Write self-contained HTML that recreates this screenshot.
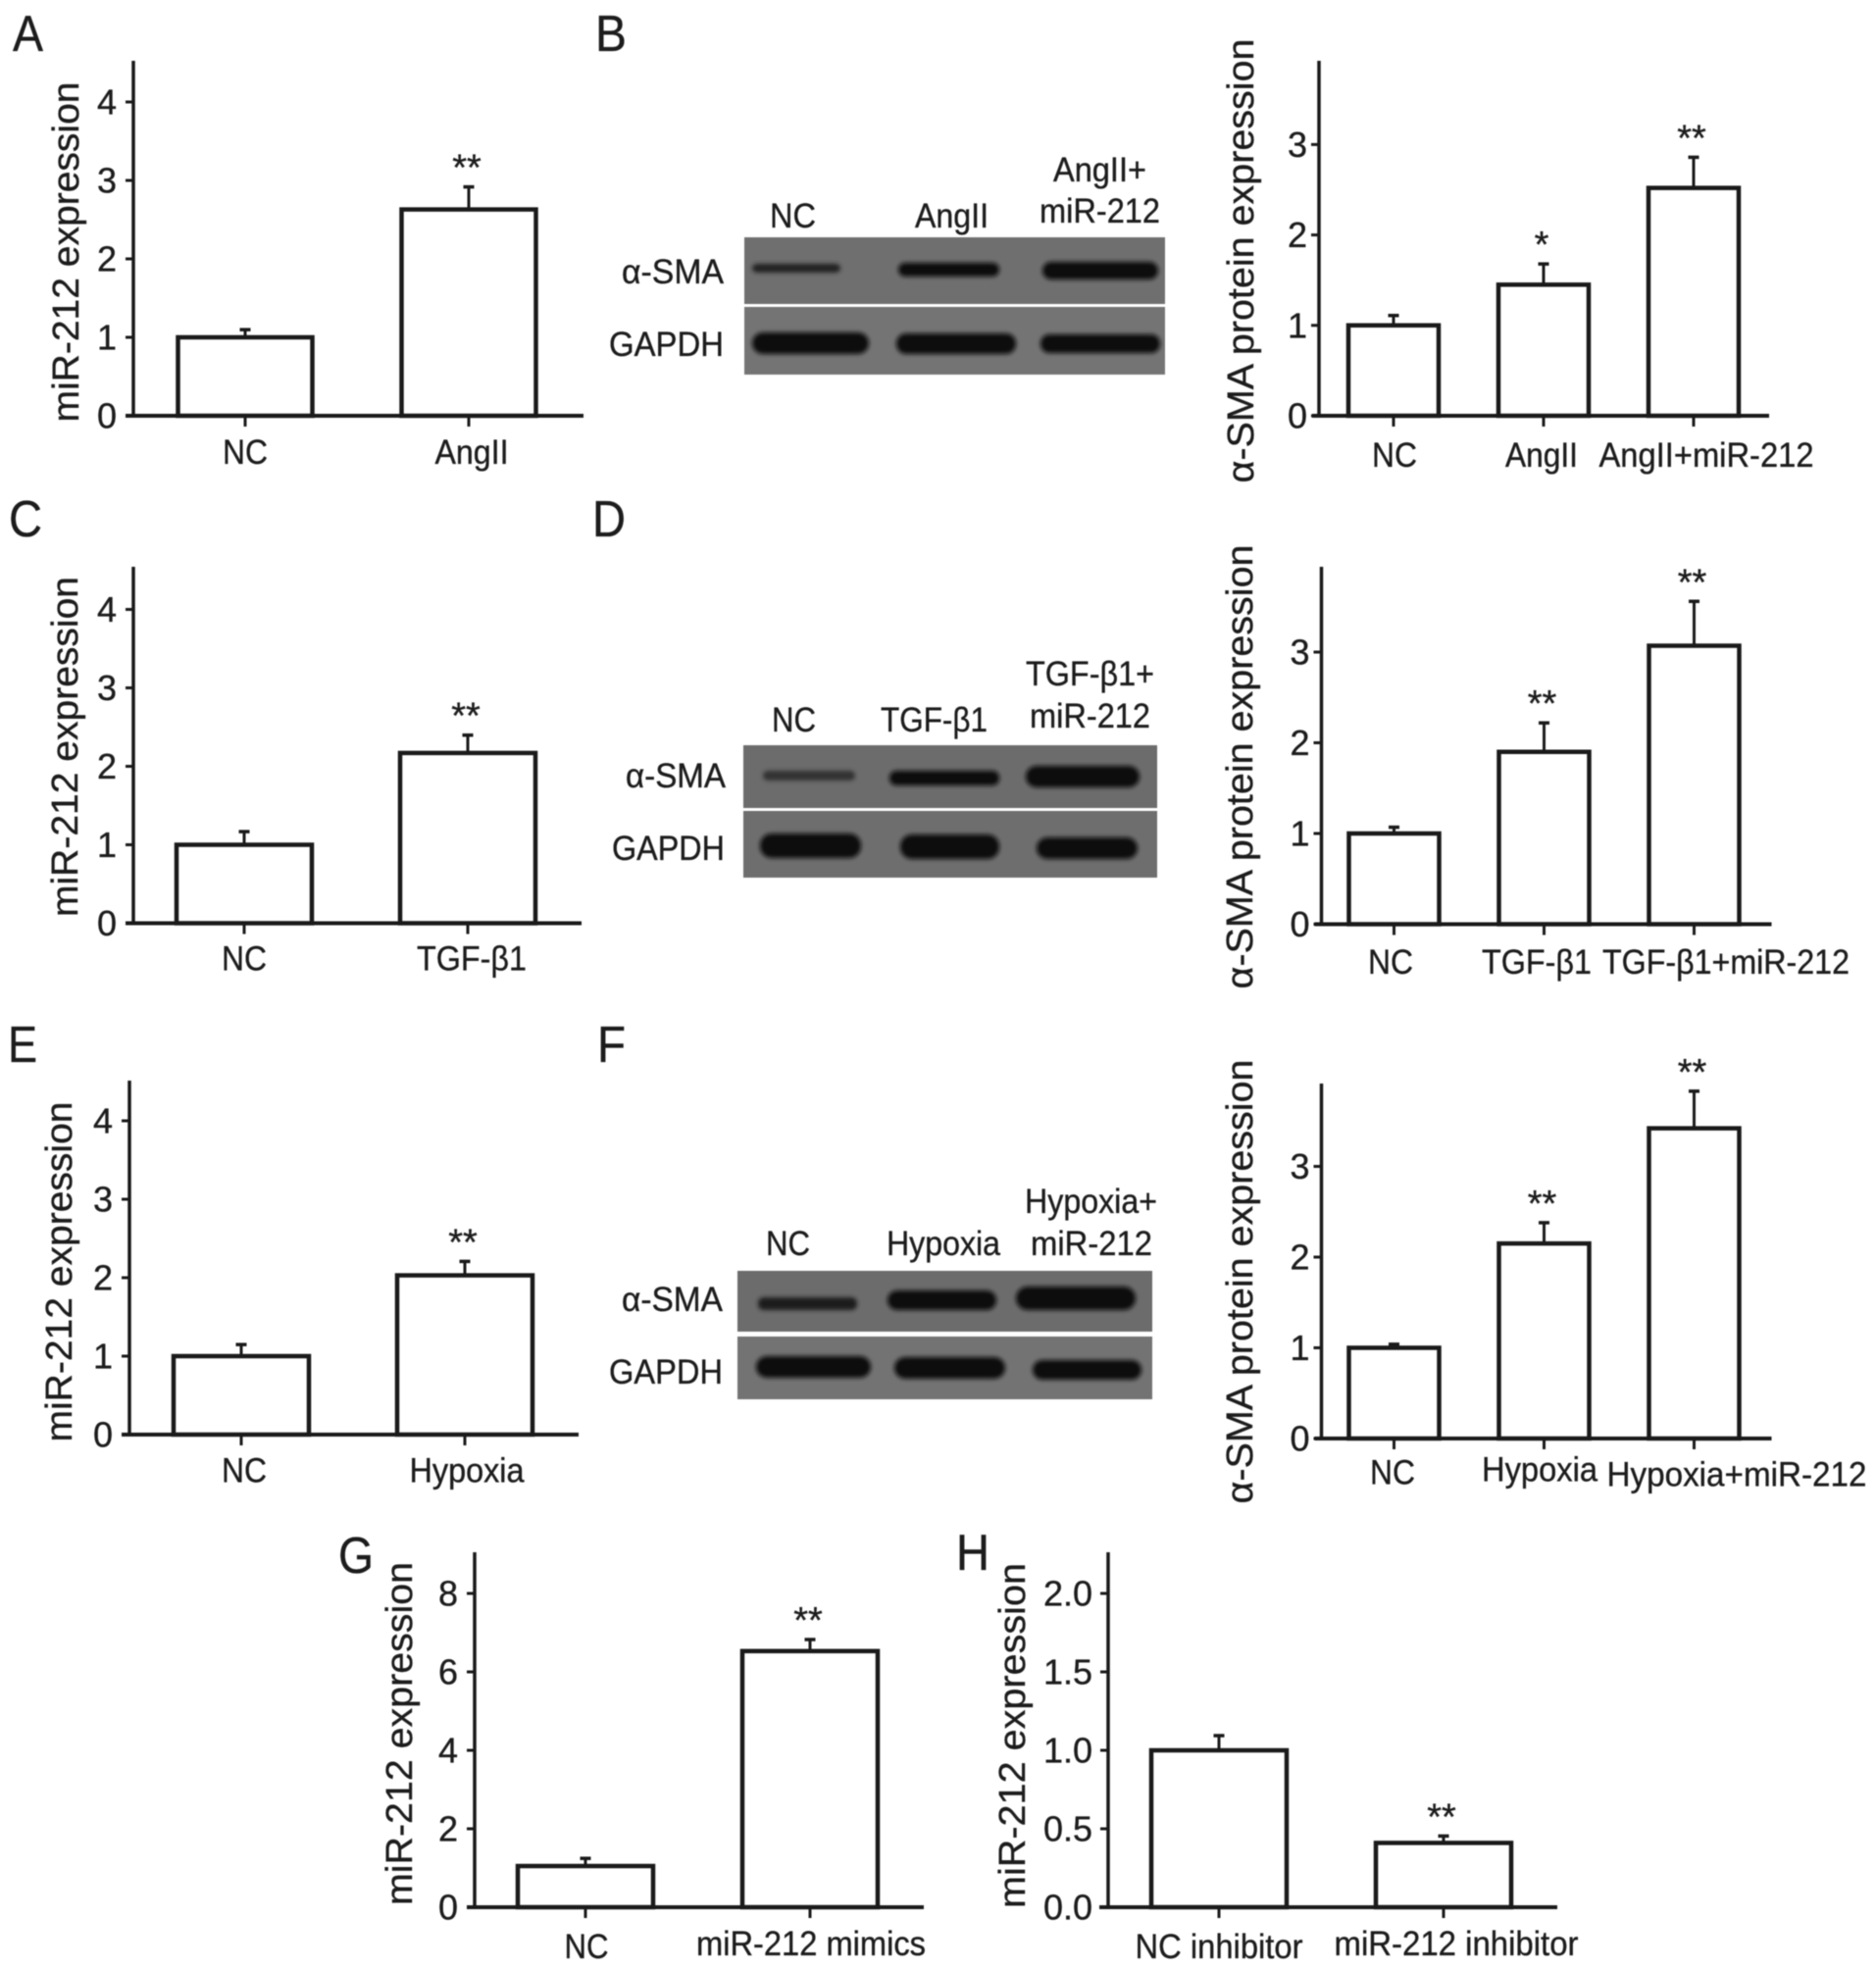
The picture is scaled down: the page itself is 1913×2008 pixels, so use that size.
<!DOCTYPE html>
<html lang="en">
<head>
<meta charset="utf-8">
<title>miR-212 expression and alpha-SMA protein expression panels</title>
<style>
html,body{margin:0;padding:0;background:#fff}
svg{display:block;filter:blur(.6px)}
text{font-family:"Liberation Sans",Arial,sans-serif;fill:#1c1c1c;stroke:#1c1c1c;stroke-width:.35px}
.pl{font-size:52px}
.bl{font-size:35px}
</style>
</head>
<body>
<svg id="figure" xmlns="http://www.w3.org/2000/svg" width="1913" height="2008" viewBox="0 0 1913 2008">
<defs>
<filter id="soft" x="-20%" y="-60%" width="140%" height="220%"><feGaussianBlur stdDeviation="2"/></filter>
</defs>
<rect width="1913" height="2008" fill="#fff"/>

<text class="pl" x="13" y="52" textLength="31" lengthAdjust="spacingAndGlyphs">A</text>
<text class="pl" x="607" y="52" textLength="32" lengthAdjust="spacingAndGlyphs">B</text>
<text class="pl" x="9" y="547" textLength="34" lengthAdjust="spacingAndGlyphs">C</text>
<text class="pl" x="604" y="547" textLength="34" lengthAdjust="spacingAndGlyphs">D</text>
<text class="pl" x="8" y="1083" textLength="30" lengthAdjust="spacingAndGlyphs">E</text>
<text class="pl" x="609" y="1083" textLength="29" lengthAdjust="spacingAndGlyphs">F</text>
<text class="pl" x="345" y="1604" textLength="36" lengthAdjust="spacingAndGlyphs">G</text>
<text class="pl" x="975" y="1601" textLength="34" lengthAdjust="spacingAndGlyphs">H</text>

<g>
<rect x="759" y="242" width="429" height="68" fill="#6f6f6f"/>
<rect x="759" y="313" width="429" height="69" fill="#747474"/>
<g filter="url(#soft)" fill="#0e0e0e">
<rect x="767" y="269" width="90" height="9" rx="5" fill="#222"/>
<rect x="916" y="268" width="103" height="14" rx="7"/>
<rect x="1063" y="267" width="118" height="18" rx="9"/>
<rect x="767" y="339" width="119" height="22" rx="11"/>
<rect x="914" y="340" width="122" height="21" rx="10"/>
<rect x="1061" y="341" width="122" height="19" rx="9"/>
</g>
<text class="bl" x="634" y="289" textLength="104" lengthAdjust="spacingAndGlyphs">α-SMA</text>
<text class="bl" x="621" y="363" textLength="117" lengthAdjust="spacingAndGlyphs">GAPDH</text>
<text class="bl" x="785" y="232" textLength="47" lengthAdjust="spacingAndGlyphs">NC</text>
<text class="bl" x="933" y="232" textLength="75" lengthAdjust="spacingAndGlyphs">AngII</text>
<text class="bl" x="1074" y="185" textLength="95" lengthAdjust="spacingAndGlyphs">AngII+</text>
<text class="bl" x="1060" y="227" textLength="123" lengthAdjust="spacingAndGlyphs">miR-212</text>
</g>

<g>
<rect x="758" y="760" width="422" height="64" fill="#6c6c6c"/>
<rect x="758" y="827" width="422" height="68" fill="#6e6e6e"/>
<g filter="url(#soft)" fill="#0e0e0e">
<rect x="778" y="786" width="94" height="10" rx="5" fill="#303030"/>
<rect x="907" y="786" width="112" height="15" rx="7"/>
<rect x="1046" y="781" width="116" height="22" rx="11"/>
<rect x="775" y="850" width="103" height="25" rx="12"/>
<rect x="918" y="851" width="101" height="25" rx="12"/>
<rect x="1057" y="854" width="103" height="22" rx="11"/>
</g>
<text class="bl" x="638" y="803" textLength="102" lengthAdjust="spacingAndGlyphs">α-SMA</text>
<text class="bl" x="624" y="877" textLength="115" lengthAdjust="spacingAndGlyphs">GAPDH</text>
<text class="bl" x="787" y="746" textLength="45" lengthAdjust="spacingAndGlyphs">NC</text>
<text class="bl" x="898" y="746" textLength="109" lengthAdjust="spacingAndGlyphs">TGF-β1</text>
<text class="bl" x="1046" y="699" textLength="131" lengthAdjust="spacingAndGlyphs">TGF-β1+</text>
<text class="bl" x="1050" y="742" textLength="123" lengthAdjust="spacingAndGlyphs">miR-212</text>
</g>

<g>
<rect x="752" y="1296" width="423" height="62" fill="#6c6c6c"/>
<rect x="752" y="1363" width="423" height="64" fill="#737373"/>
<g filter="url(#soft)" fill="#0e0e0e">
<rect x="773" y="1323" width="101" height="13" rx="6" fill="#1c1c1c"/>
<rect x="905" y="1316" width="111" height="20" rx="10"/>
<rect x="1036" y="1312" width="122" height="24" rx="12"/>
<rect x="771" y="1383" width="117" height="22" rx="11"/>
<rect x="912" y="1384" width="113" height="22" rx="11"/>
<rect x="1053" y="1387" width="111" height="20" rx="10"/>
</g>
<text class="bl" x="634" y="1337" textLength="103" lengthAdjust="spacingAndGlyphs">α-SMA</text>
<text class="bl" x="621" y="1411" textLength="116" lengthAdjust="spacingAndGlyphs">GAPDH</text>
<text class="bl" x="781" y="1280" textLength="45" lengthAdjust="spacingAndGlyphs">NC</text>
<text class="bl" x="904" y="1280" textLength="116" lengthAdjust="spacingAndGlyphs">Hypoxia</text>
<text class="bl" x="1045" y="1237" textLength="135" lengthAdjust="spacingAndGlyphs">Hypoxia+</text>
<text class="bl" x="1051" y="1280" textLength="124" lengthAdjust="spacingAndGlyphs">miR-212</text>
</g>
<g id="charts"></g>
</svg>

<script>
// Chart data
const categoriesA = ['NC', 'AngII'];
const valuesA = [1, 2.63];
const errorsA = [0.11, 0.3];
const ticksA = [0, 1, 2, 3, 4];
const starsA = ['', '**'];

const categoriesB = ['NC', 'AngII', 'AngII+miR-212'];
const valuesB = [1, 1.45, 2.52];
const errorsB = [0.12, 0.24, 0.35];
const ticksB = [0, 1, 2, 3];
const starsB = ['', '*', '**'];

const categoriesC = ['NC', 'TGF-β1'];
const valuesC = [1, 2.17];
const errorsC = [0.18, 0.24];
const ticksC = [0, 1, 2, 3, 4];
const starsC = ['', '**'];

const categoriesD = ['NC', 'TGF-β1', 'TGF-β1+miR-212'];
const valuesD = [1, 1.9, 3.07];
const errorsD = [0.08, 0.33, 0.5];
const ticksD = [0, 1, 2, 3];
const starsD = ['', '**', '**'];

const categoriesE = ['NC', 'Hypoxia'];
const valuesE = [1, 2.03];
const errorsE = [0.16, 0.19];
const ticksE = [0, 1, 2, 3, 4];
const starsE = ['', '**'];

const categoriesF = ['NC', 'Hypoxia', 'Hypoxia+miR-212'];
const valuesF = [1, 2.15, 3.42];
const errorsF = [0.05, 0.24, 0.42];
const ticksF = [0, 1, 2, 3];
const starsF = ['', '**', '**'];

const categoriesG = ['NC', 'miR-212 mimics'];
const valuesG = [1.05, 6.53];
const errorsG = [0.22, 0.32];
const ticksG = [0, 2, 4, 6, 8];
const tickTextG = ['0', '2', '4', '6', '8'];
const starsG = ['', '**'];

const categoriesH = ['NC inhibitor', 'miR-212 inhibitor'];
const valuesH = [1, 0.41];
const errorsH = [0.1, 0.05];
const ticksH = [0, 0.5, 1, 1.5, 2];
const tickTextH = ['0.0', '0.5', '1.0', '1.5', '2.0'];
const starsH = ['', '**'];

const yTitleMir = 'miR-212 expression';
const yTitleSma = 'α-SMA protein expression';

// Panel layouts (geometry only)
const panels = [
 {id:'a',cats:categoriesA,vals:valuesA,errs:errorsA,ticks:ticksA,stars:starsA,title:yTitleMir,
  ax:136,top:62,y0:424,unit:80,xs:128,xe:595,c1:250,step:228,bw:137,tx:80,ty:257,tl:347,tr:119,
  lx:[250,481],lw:[46,75],lb:[473,473]},
 {id:'b',cats:categoriesB,vals:valuesB,errs:errorsB,ticks:ticksB,stars:starsB,title:yTitleSma,
  ax:1345,top:62,y0:424,unit:92.2,xs:1338,xe:1804,c1:1421,step:153,bw:92,tx:1278,ty:266,tl:453,tr:1333,
  lx:[1422,1572,1740],lw:[46,74,219],lb:[476,476,476]},
 {id:'c',cats:categoriesC,vals:valuesC,errs:errorsC,ticks:ticksC,stars:starsC,title:yTitleMir,
  ax:136,top:578,y0:941.5,unit:80,xs:128,xe:593,c1:249,step:228,bw:138,tx:79,ty:761.5,tl:347,tr:119,
  lx:[249,481],lw:[46,112],lb:[989.5,989.5]},
 {id:'d',cats:categoriesD,vals:valuesD,errs:errorsD,ticks:ticksD,stars:starsD,title:yTitleSma,
  ax:1347.5,top:578,y0:942.5,unit:92.5,xs:1340.5,xe:1806.5,c1:1421.5,step:153,bw:92,tx:1277,ty:782,tl:453,tr:1335.5,
  lx:[1418,1567,1760],lw:[46,112,252],lb:[993,993,993]},
 {id:'e',cats:categoriesE,vals:valuesE,errs:errorsE,ticks:ticksE,stars:starsE,title:yTitleMir,
  ax:132,top:1102,y0:1463,unit:80,xs:124,xe:590,c1:246,step:228,bw:138,tx:73,ty:1297,tl:347,tr:115,
  lx:[249,476],lw:[46,117],lb:[1511.5,1511.5]},
 {id:'f',cats:categoriesF,vals:valuesF,errs:errorsF,ticks:ticksF,stars:starsF,title:yTitleSma,
  ax:1347.5,top:1105,y0:1467,unit:92.5,xs:1340.5,xe:1806.5,c1:1421.5,step:153,bw:92,tx:1277,ty:1307,tl:453,tr:1335.5,
  lx:[1420,1570,1771],lw:[46,118,265],lb:[1513.5,1510.5,1515.5]},
 {id:'g',cats:categoriesG,vals:valuesG,errs:errorsG,ticks:ticksG,tickText:tickTextG,stars:starsG,title:yTitleMir,
  ax:484,top:1583,y0:1945,unit:40,xs:476,xe:942,c1:597,step:229,bw:138,tx:420,ty:1768,tl:350,tr:467,
  lx:[598,827],lw:[45,234],lb:[1997,1994]},
 {id:'h',cats:categoriesH,vals:valuesH,errs:errorsH,ticks:ticksH,tickText:tickTextH,stars:starsH,title:yTitleMir,
  ax:1130,top:1583,y0:1945,unit:160,xs:1121,xe:1588,c1:1243,step:229,bw:138,tx:1045,ty:1770,tl:352,tr:1114,
  lx:[1243,1485],lw:[171,249],lb:[1997,1994]}
];

const SVG_NS = 'http://www.w3.org/2000/svg';
const INK = '#1a1a1a';
const root = document.getElementById('charts');

function make(tag, parent, attrs) {
  const el = document.createElementNS(SVG_NS, tag);
  for (const k in attrs) el.setAttribute(k, attrs[k]);
  parent.appendChild(el);
  return el;
}

panels.forEach(function (p) {
  const yScale = function (v) { return p.y0 - v * p.unit; };
  const xScale = function (i) { return p.c1 + i * p.step; };

  const g = make('g', root, {});
  
  

  p.cats.forEach(function (cat, i) {
    const top = yScale(p.vals[i]);
    const cx = xScale(i);
    const capY = yScale(p.vals[i] + p.errs[i]);

    const err = make('line', g, {x1: cx, x2: cx, y1: top, y2: capY, stroke: INK, 'stroke-width': 3});
    
    

    const cap = make('line', g, {x1: cx - 5.5, x2: cx + 5.5, y1: capY + 1, y2: capY + 1, stroke: INK, 'stroke-width': 3.5});
    
    

    const bar = make('rect', g, {x: cx - p.bw / 2, y: top, width: p.bw, height: p.y0 - top, fill: '#fff', stroke: INK, 'stroke-width': 4.5});
    
    

    const tick = make('line', g, {x1: cx, x2: cx, y1: p.y0, y2: p.y0 + 11, stroke: INK, 'stroke-width': 3});
    
    

    const label = make('text', g, {x: p.lx[i] - p.lw[i] / 2, y: p.lb[i], 'font-size': 35, textLength: p.lw[i], lengthAdjust: 'spacingAndGlyphs'});
    label.textContent = cat;
    
    

    if (p.stars[i]) {
      const star = make('text', g, {x: cx - 2, y: capY - 6, 'font-size': 38, 'text-anchor': 'middle'});
      star.textContent = p.stars[i];
      
      
    }
  });

  const yAxis = make('line', g, {x1: p.ax, x2: p.ax, y1: p.top, y2: p.y0, stroke: INK, 'stroke-width': 3.5});
  
  

  const xAxis = make('line', g, {x1: p.xs, x2: p.xe, y1: p.y0, y2: p.y0, stroke: INK, 'stroke-width': 4});
  
  

  p.ticks.forEach(function (t, i) {
    const y = yScale(t);
    const tick = make('line', g, {x1: p.ax - 8, x2: p.ax, y1: y, y2: y, stroke: INK, 'stroke-width': 3});
    
    

    const label = make('text', g, {x: p.tr, y: y + 12.5, 'font-size': 36, 'text-anchor': 'end'});
    label.textContent = p.tickText ? p.tickText[i] : String(t);
    
    
  });

  const title = make('text', g, {
    x: 0, y: 0, 'font-size': 38, 'text-anchor': 'middle', textLength: p.tl, lengthAdjust: 'spacingAndGlyphs',
    transform: 'translate(' + p.tx + ',' + p.ty + ') rotate(-90)'
  });
  title.textContent = p.title;
  
  
});
</script>
</body>
</html>
